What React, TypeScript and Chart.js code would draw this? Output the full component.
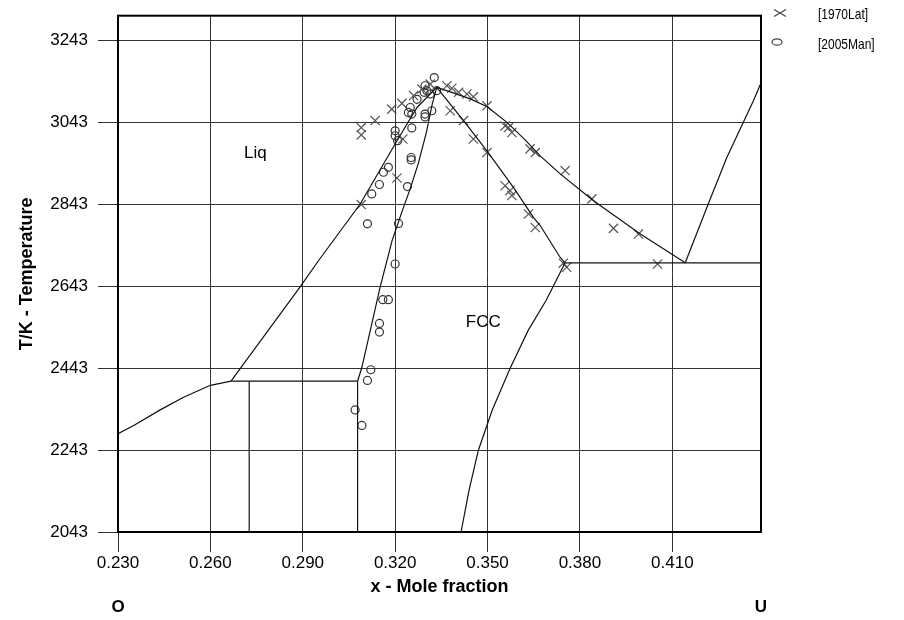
import { useEffect, useRef } from 'react';
import { Chart, registerables } from 'chart.js';

Chart.register(...registerables);

// Axes
const xTicks = [0.23, 0.26, 0.29, 0.32, 0.35, 0.38, 0.41];
const yTicks = [2043, 2243, 2443, 2643, 2843, 3043, 3243];
const xMin = 0.23;
const xMax = 0.4388;
const yMin = 2043;
const yMax = 3303;

// Phase boundaries
const leftCurveX = [0.2300, 0.2351, 0.2437, 0.2513, 0.2600, 0.2667];
const leftCurveY = [2283, 2303, 2341, 2372, 2401, 2411];
const tieLineX = [0.2667, 0.3078];
const tieLineY = [2411, 2411];
const leftVertX = [0.2726, 0.2726];
const leftVertY = [2411, 2043];
const midVertX = [0.3078, 0.3078];
const midVertY = [2411, 2043];
const liqLeftX = [0.2667, 0.2892, 0.2951, 0.3087, 0.3206, 0.3271, 0.3335];
const liqLeftY = [2411, 2642, 2705, 2844, 2998, 3079, 3128];
const solidusX = [0.3078, 0.3092, 0.3151, 0.3190, 0.3220, 0.3249, 0.3275, 0.3301, 0.3320, 0.3335];
const solidusY = [2411, 2445, 2640, 2754, 2820, 2881, 2942, 3017, 3086, 3128];
const fccUpperX = [0.3335, 0.3422, 0.3498, 0.3584, 0.3649, 0.3671, 0.3736, 0.3752];
const fccUpperY = [3128, 3047, 2973, 2884, 2811, 2791, 2713, 2700];
const fccLowerX = [0.3752, 0.3690, 0.3632, 0.3573, 0.3515, 0.3470, 0.3440, 0.3414];
const fccLowerY = [2700, 2608, 2535, 2442, 2340, 2242, 2145, 2043];
const eutecticX = [0.3752, 0.4388];
const eutecticY = [2700, 2700];
const liqRightX = [0.3335, 0.3379, 0.3444, 0.3499, 0.3564, 0.3622, 0.3671, 0.3736, 0.3843, 0.3995, 0.4142];
const liqRightY = [3128, 3117, 3100, 3081, 3042, 3000, 2961, 2917, 2852, 2771, 2700];
const rightLineX = [0.4142, 0.4217, 0.4277, 0.4363, 0.4388];
const rightLineY = [2700, 2844, 2957, 3095, 3139];

// Experimental data
const latX = [0.3090, 0.3090, 0.3135, 0.3189, 0.3222, 0.3260, 0.3287, 0.3314, 0.3206, 0.3225, 0.3090, 0.3368, 0.3384, 0.3406, 0.3433, 0.3454, 0.3498, 0.3379, 0.3422, 0.3454, 0.3498, 0.3557, 0.3568, 0.3579, 0.3638, 0.3655, 0.3557, 0.3573, 0.3579, 0.3633, 0.3655, 0.3752, 0.3839, 0.3909, 0.3990, 0.4052, 0.3746, 0.3757];
const latY = [3030, 3012, 3047, 3075, 3089, 3108, 3124, 3136, 2907, 3002, 2842, 3132, 3126, 3116, 3112, 3105, 3083, 3071, 3047, 3002, 2969, 3034, 3030, 3018, 2978, 2969, 2888, 2876, 2864, 2819, 2786, 2925, 2856, 2784, 2770, 2697, 2699, 2689];
const manX = [0.3327, 0.3297, 0.3303, 0.3294, 0.3314, 0.3335, 0.3271, 0.3249, 0.3243, 0.3254, 0.3297, 0.3297, 0.3319, 0.3200, 0.3200, 0.3254, 0.3252, 0.3252, 0.3208, 0.3178, 0.3162, 0.3149, 0.3124, 0.3240, 0.3110, 0.3211, 0.3200, 0.3160, 0.3178, 0.3149, 0.3149, 0.3121, 0.3110, 0.3070, 0.3092];
const manY = [3152, 3132, 3120, 3116, 3112, 3120, 3099, 3079, 3067, 3063, 3063, 3056, 3071, 3022, 3010, 3029, 2957, 2951, 2998, 2933, 2921, 2891, 2868, 2886, 2795, 2796, 2697, 2610, 2610, 2552, 2531, 2439, 2413, 2341, 2303];

const legendLabels = ['[1970Lat]', '[2005Man]'];
const regionLabels = ['Liq', 'FCC'];
const regionX = [0.2746, 0.3486];
const regionY = [2968, 2554];
const componentLabels = ['O', 'U'];

const FONT = '"Liberation Sans", Arial, sans-serif';

const pts = (xs: number[], ys: number[]) => xs.map((x, i) => ({ x, y: ys[i] }));

const lineSets: [number[], number[]][] = [
  [leftCurveX, leftCurveY],
  [tieLineX, tieLineY],
  [leftVertX, leftVertY],
  [midVertX, midVertY],
  [liqLeftX, liqLeftY],
  [solidusX, solidusY],
  [fccUpperX, fccUpperY],
  [fccLowerX, fccLowerY],
  [eutecticX, eutecticY],
  [liqRightX, liqRightY],
  [rightLineX, rightLineY],
];

const decorPlugin = {
  id: 'decor',
  afterDatasetsDraw(chart: any) {
    const { ctx, chartArea: a, scales } = chart;
    ctx.save();
    ctx.strokeStyle = '#000';
    ctx.lineWidth = 2;
    ctx.strokeRect(a.left, a.top, a.right - a.left, a.bottom - a.top);

    ctx.fillStyle = '#000';
    ctx.textAlign = 'center';
    ctx.textBaseline = 'middle';
    ctx.font = '17px ' + FONT;
    regionLabels.forEach((t, i) => {
      ctx.fillText(t, scales.x.getPixelForValue(regionX[i]), scales.y.getPixelForValue(regionY[i]));
    });

    ctx.font = 'bold 17px ' + FONT;
    ctx.fillText(componentLabels[0], scales.x.getPixelForValue(xMin), 599);
    ctx.fillText(componentLabels[1], scales.x.getPixelForValue(xMax), 599);

    // legend
    const mx = a.right + 19;
    const tx = a.right + 57;
    ctx.strokeStyle = '#444';
    ctx.lineWidth = 1.2;
    const cy1 = 5;
    ctx.beginPath();
    ctx.moveTo(mx - 6, cy1 - 3.5);
    ctx.lineTo(mx + 6, cy1 + 3.5);
    ctx.moveTo(mx - 6, cy1 + 3.5);
    ctx.lineTo(mx + 6, cy1 - 3.5);
    ctx.stroke();
    const cy2 = 34;
    ctx.beginPath();
    ctx.ellipse(mx - 3, cy2, 5, 3.2, 0, 0, Math.PI * 2);
    ctx.stroke();

    ctx.textAlign = 'left';
    ctx.font = '15px ' + FONT;
    legendLabels.forEach((t, i) => {
      ctx.save();
      ctx.translate(tx, i === 0 ? 7 : 37);
      ctx.scale(0.8, 1);
      ctx.fillText(t, 0, 0);
      ctx.restore();
    });
    ctx.restore();
  },
};

export default function App() {
  const ref = useRef<HTMLCanvasElement | null>(null);

  useEffect(() => {
    if (!ref.current) return;
    const datasets: any[] = lineSets.map(([xs, ys]) => ({
      type: 'scatter',
      data: pts(xs, ys),
      showLine: true,
      borderColor: '#111',
      borderWidth: 1.2,
      pointRadius: 0,
      fill: false,
    }));
    datasets.push({
      type: 'scatter',
      label: legendLabels[0],
      data: pts(latX, latY),
      showLine: false,
      pointStyle: 'crossRot',
      pointRadius: 6.5,
      borderColor: '#555',
      borderWidth: 1.2,
    });
    datasets.push({
      type: 'scatter',
      label: legendLabels[1],
      data: pts(manX, manY),
      showLine: false,
      pointStyle: 'circle',
      pointRadius: 4,
      borderColor: '#333',
      backgroundColor: 'rgba(0,0,0,0)',
      borderWidth: 1.2,
    });

    const chart = new Chart(ref.current, {
      type: 'scatter',
      data: { datasets },
      options: {
        animation: false,
        responsive: false,
        events: [],
        layout: { padding: { top: 6, right: 135, left: 0, bottom: 0 } },
        plugins: { legend: { display: false }, tooltip: { enabled: false } },
        scales: {
          x: {
            type: 'linear',
            min: xMin,
            max: xMax,
            afterBuildTicks: (axis: any) => {
              axis.ticks = xTicks.map((v) => ({ value: v }));
            },
            afterFit: (axis: any) => {
              axis.height = 80;
              axis.paddingLeft = 0;
              axis.paddingRight = 0;
            },
            ticks: {
              autoSkip: false,
              maxRotation: 0,
              padding: 1,
              color: '#000',
              font: { family: FONT, size: 17 },
              callback: (v: any) => Number(v).toFixed(3),
            },
            grid: { color: '#333', lineWidth: 1, tickLength: 20, drawTicks: true },
            border: { color: '#000', width: 2 },
            title: {
              display: true,
              text: 'x - Mole fraction',
              color: '#000',
              font: { family: FONT, size: 18, weight: 'bold' },
              padding: { top: 0, bottom: 14 },
            },
          },
          y: {
            type: 'linear',
            min: yMin,
            max: yMax,
            afterBuildTicks: (axis: any) => {
              axis.ticks = yTicks.map((v) => ({ value: v }));
            },
            afterFit: (axis: any) => {
              axis.width = 110;
              axis.paddingTop = 0;
              axis.paddingBottom = 0;
            },
            ticks: {
              autoSkip: false,
              padding: 10,
              color: '#000',
              font: { family: FONT, size: 17 },
              callback: (v: any) => String(v),
            },
            grid: { color: '#333', lineWidth: 1, tickLength: 20, drawTicks: true },
            border: { color: '#000', width: 2 },
            title: {
              display: true,
              text: 'T/K - Temperature',
              color: '#000',
              font: { family: FONT, size: 18, weight: 'bold' },
              padding: { top: 8, bottom: 0 },
            },
          },
        },
      },
      plugins: [decorPlugin],
    } as any);
    return () => chart.destroy();
  }, []);

  return <canvas ref={ref} width={888} height={604} style={{ display: 'block' }} />;
}
